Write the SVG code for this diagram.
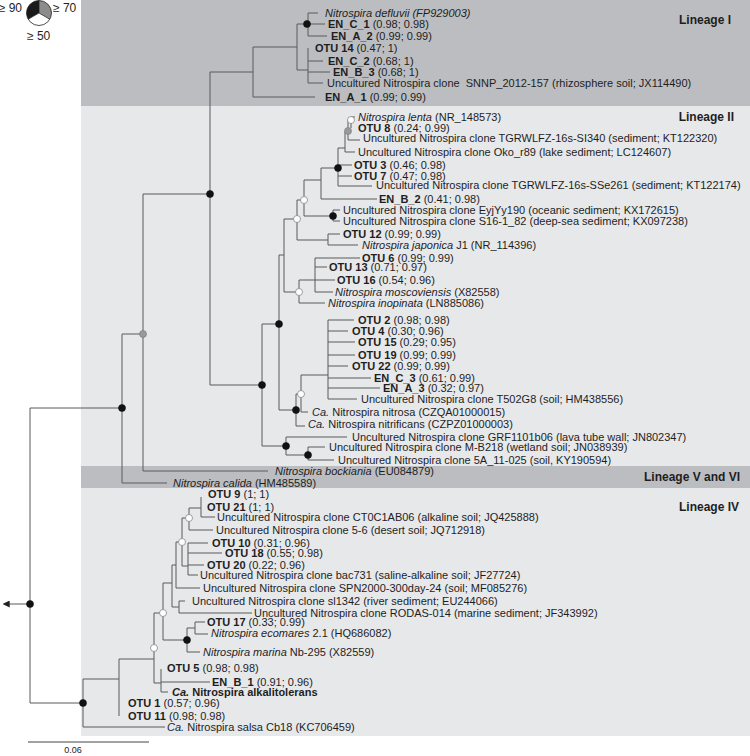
<svg xmlns="http://www.w3.org/2000/svg" width="750" height="756" viewBox="0 0 750 756">
<defs>
<style>
text{font-family:"Liberation Sans",Arial,sans-serif;font-size:11px;fill:#1e1e1e}
.b{font-weight:bold}
.i{font-style:italic}
.lin{font-size:12px;font-weight:bold;text-anchor:end}
.e{fill:none;stroke:#5a5a5a;stroke-width:1}
.nb{fill:#111;stroke:#111;stroke-width:0.6}
.ng{fill:#9a9a9a;stroke:#777;stroke-width:0.6}
.nw{fill:#fff;stroke:#888;stroke-width:0.8}
</style>
<marker id="ah" viewBox="0 0 10 10" refX="1" refY="5" markerWidth="7" markerHeight="7" orient="auto-start-reverse" markerUnits="userSpaceOnUse">
<path d="M0,0 L10,5 L0,10 z" fill="#222"/>
</marker>
</defs>
<g id="bands">
<rect x="81" y="0" width="669" height="106" fill="#bcbdc0"/>
<rect x="81" y="106" width="669" height="360" fill="#e7e8ea"/>
<rect x="81" y="466" width="669" height="22" fill="#bcbdc0"/>
<rect x="81" y="488" width="669" height="248" fill="#e7e8ea"/>
<text class="lin" x="731" y="24">Lineage I</text>
<text class="lin" x="734" y="121">Lineage II</text>
<text class="lin" x="740" y="481">Lineage V and VI</text>
<text class="lin" x="739" y="511">Lineage IV</text>
</g>
<g id="legend">
<path d="M39,13 L39,0.5 A12.5,12.5 0 0 0 28.2,19.25 Z" fill="#1a1a1a"/>
<path d="M39,13 L39,0.5 A12.5,12.5 0 0 1 49.8,19.25 Z" fill="#8c8c8c"/>
<path d="M39,13 L28.2,19.25 A12.5,12.5 0 0 0 49.8,19.25 Z" fill="#fff"/>
<circle cx="39" cy="13" r="12.5" fill="none" stroke="#222" stroke-width="0.8"/>
<path d="M39,13 L39,0.5 M39,13 L28.2,19.25 M39,13 L49.8,19.25" stroke="#222" stroke-width="0.8"/>
<text x="22" y="12" style="font-size:12px;text-anchor:end">≥ 90</text>
<text x="53" y="12" style="font-size:12px">≥ 70</text>
<text x="27" y="40" style="font-size:12px">≥ 50</text>
</g>
<g id="connectors" class="e">
<path class="e" d="M30,604 H9" marker-end="url(#ah)"/>
<path class="e" d="M30,408 V703 M30,408 H122 M122,334 V483 M122,334 H143 M122,483 H167 M143,194 V471 M143,194 H210 M143,471 H268 M210,72 V385 M210,72 H253 M210,385 H262 M30,703 H83"/>
<path class="e" d="M253,47 V97 M253,47 H297 M253,97 H315 M297,24 V70 M297,24 H308 M297,70 H308 M308,13 V36 M308,13 H318 M308,24 H325 M308,36 H327 M308,48 V83 M308,61 H323 M308,72 H330 M308,83 H323"/>
<path class="e" d="M262,324 V446 M262,324 H279 M262,446 H286 M279,255 V410 M279,255 H284 M279,410 H296 M284,219 V292 M284,219 H297 M284,292 H299
M297,200 V240 M297,200 H304 M297,240 H328 M304,180 V216 M304,180 H321 M304,216 H333 M321,168 V199 M321,168 H338 M321,199 H377
M338,148 V186 M338,148 H345 M338,165 H352 M338,176 H352 M338,186 H372 M345,132 V152 M345,132 H348 M345,152 H355 M348,120 V140 M348,120 H351 M348,140 H360 M351,117 V128 M351,117 H355
M333,210 V221 M333,210 H340 M333,221 H340 M328,234 V245 M328,234 H340 M328,245 H358
M299,280 V303 M299,280 H315 M299,303 H325 M315,258 V292 M315,258 H360 M315,267 H327 M315,280 H335 M315,292 H333
M296,394 V426 M296,394 H301 M296,426 H305 M301,375 V412 M301,375 H328 M301,412 H308
M328,320 V399 M328,320 H354 M328,331 H348 M328,342 H355 M328,355 H355 M328,366 H348 M328,378 H371 M328,388 H380 M328,399 H357
M286,437 V455 M286,437 H347 M286,455 H308 M308,447 V460 M308,447 H325 M308,460 H334"/>
<path class="e" d="M83,679 V727 M83,679 H119 M83,727 H165 M119,659 V716 M119,659 H154 M154,613 V683 M154,613 H163 M154,683 H161
M161,669 V692 M161,682 H210 M161,692 H168 M163,583 V640 M163,583 H172 M163,640 H187 M187,628 V652 M187,628 H195 M187,652 H200
M195,622 V634 M195,622 H205 M195,634 H208 M172,565 V607 M172,565 H176 M172,607 H179 M179,601 V613 M179,601 H185 M179,613 H252
M176,542 V588 M176,542 H182 M176,588 H200 M182,518 V566 M182,518 H189 M182,566 H188 M189,508 V530 M189,508 H201 M189,530 H213
M201,497 V517 M201,517 H215 M188,543 V575 M188,543 H208 M188,553 H222 M188,565 H204 M188,575 H198"/>
</g>
<g id="nodes">
<circle class="nb" cx="30" cy="604" r="3.5"/>
<circle class="nb" cx="122" cy="408" r="3.5"/>
<circle class="ng" cx="143" cy="334" r="3.5"/>
<circle class="nb" cx="210" cy="194" r="3.5"/>
<circle class="nb" cx="307" cy="24" r="3.5"/>
<circle class="nb" cx="262" cy="385" r="3.5"/>
<circle class="nb" cx="279" cy="324" r="3.5"/>
<circle class="nb" cx="296" cy="410" r="3.5"/>
<circle class="nb" cx="286" cy="446" r="3.5"/>
<circle class="nb" cx="308" cy="455" r="3.5"/>
<circle class="nb" cx="338" cy="168" r="3.5"/>
<circle class="nb" cx="333" cy="216" r="3.5"/>
<circle class="ng" cx="348" cy="131" r="3.5"/>
<circle class="nw" cx="351" cy="120" r="3.5"/>
<circle class="nw" cx="304" cy="200" r="3.5"/>
<circle class="nw" cx="297" cy="219" r="3.5"/>
<circle class="nw" cx="299" cy="292" r="3.5"/>
<circle class="nw" cx="301" cy="394" r="3.5"/>
<circle class="nb" cx="83" cy="703" r="3.5"/>
<circle class="nb" cx="187" cy="640" r="3.5"/>
<circle class="nw" cx="189" cy="518" r="3.5"/>
<circle class="nw" cx="182" cy="542" r="3.5"/>
<circle class="nw" cx="163" cy="613" r="3.5"/>
<circle class="nw" cx="154" cy="648" r="3.5"/>
</g>
<g id="labels-lineage-I">
<text x="325" y="17" class="i">Nitrospira defluvii (FP929003)</text>
<text x="328" y="28"><tspan class="b">EN_C_1</tspan> (0.98; 0.98)</text>
<text x="331" y="40"><tspan class="b">EN_A_2</tspan> (0.99; 0.99)</text>
<text x="315" y="52"><tspan class="b">OTU 14</tspan> (0.47; 1)</text>
<text x="328" y="65"><tspan class="b">EN_C_2</tspan> (0.68; 1)</text>
<text x="333" y="76"><tspan class="b">EN_B_3</tspan> (0.68; 1)</text>
<text x="327" y="87" xml:space="preserve">Uncultured Nitrospira clone  SNNP_2012-157 (rhizosphere soil; JX114490)</text>
<text x="325" y="101"><tspan class="b">EN_A_1</tspan> (0.99; 0.99)</text>
</g>
<g id="labels-lineage-II">
<text x="358" y="121"><tspan class="i">Nitrospira lenta</tspan> (NR_148573)</text>
<text x="358" y="132"><tspan class="b">OTU 8</tspan> (0.24; 0.99)</text>
<text x="363" y="142">Uncultured Nitrospira clone TGRWLFZ-16s-SI340 (sediment; KT122320)</text>
<text x="358" y="156">Uncultured Nitrospira clone Oko_r89 (lake sediment; LC124607)</text>
<text x="354" y="169"><tspan class="b">OTU 3</tspan> (0.46; 0.98)</text>
<text x="354" y="180"><tspan class="b">OTU 7</tspan> (0.47; 0.98)</text>
<text x="376" y="189">Uncultured Nitrospira clone TGRWLFZ-16s-SSe261 (sediment; KT122174)</text>
<text x="379" y="203"><tspan class="b">EN_B_2</tspan> (0.41; 0.98)</text>
<text x="343" y="214">Uncultured Nitrospira clone EyjYy190 (oceanic sediment; KX172615)</text>
<text x="343" y="225">Uncultured Nitrospira clone S16-1_82 (deep-sea sediment; KX097238)</text>
<text x="343" y="238"><tspan class="b">OTU 12</tspan> (0.99; 0.99)</text>
<text x="362" y="249"><tspan class="i">Nitrospira japonica</tspan> J1 (NR_114396)</text>
<text x="362" y="262"><tspan class="b">OTU 6</tspan> (0.99; 0.99)</text>
<text x="329" y="271"><tspan class="b">OTU 13</tspan> (0.71; 0.97)</text>
<text x="337" y="284"><tspan class="b">OTU 16</tspan> (0.54; 0.96)</text>
<text x="335" y="296"><tspan class="i">Nitrospira moscoviensis</tspan> (X82558)</text>
<text x="328" y="307"><tspan class="i">Nitrospira inopinata</tspan> (LN885086)</text>
<text x="358" y="324"><tspan class="b">OTU 2</tspan> (0.98; 0.98)</text>
<text x="352" y="335"><tspan class="b">OTU 4</tspan> (0.30; 0.96)</text>
<text x="358" y="346"><tspan class="b">OTU 15</tspan> (0.29; 0.95)</text>
<text x="358" y="359"><tspan class="b">OTU 19</tspan> (0.99; 0.99)</text>
<text x="352" y="370"><tspan class="b">OTU 22</tspan> (0.99; 0.99)</text>
<text x="374" y="382"><tspan class="b">EN_C_3</tspan> (0.61; 0.99)</text>
<text x="383" y="392"><tspan class="b">EN_A_3</tspan> (0.32; 0.97)</text>
<text x="361" y="403">Uncultured Nitrospira clone T502G8 (soil; HM438556)</text>
<text x="312" y="416"><tspan class="i">Ca.</tspan> Nitrospira nitrosa (CZQA01000015)</text>
<text x="308" y="428"><tspan class="i">Ca.</tspan> Nitrospira nitrificans (CZPZ01000003)</text>
<text x="352" y="441">Uncultured Nitrospira clone GRF1101b06 (lava tube wall; JN802347)</text>
<text x="329" y="451">Uncultured Nitrospira clone M-B218 (wetland soil; JN038939)</text>
<text x="338" y="464">Uncultured Nitrospira clone 5A_11-025 (soil, KY190594)</text>
</g>
<g id="labels-lineage-V-VI">
<text x="275" y="475"><tspan class="i">Nitrospira bockiania</tspan> (EU084879)</text>
<text x="173" y="487"><tspan class="i">Nitrospira calida</tspan> (HM485589)</text>
</g>
<g id="labels-lineage-IV">
<text x="208" y="498"><tspan class="b">OTU 9</tspan> (1; 1)</text>
<text x="207" y="511"><tspan class="b">OTU 21</tspan> (1; 1)</text>
<text x="217" y="521">Uncultured Nitrospira clone CT0C1AB06 (alkaline soil; JQ425888)</text>
<text x="216" y="534">Uncultured Nitrospira clone 5-6 (desert soil; JQ712918)</text>
<text x="212" y="547"><tspan class="b">OTU 10</tspan> (0.31; 0.96)</text>
<text x="225" y="557"><tspan class="b">OTU 18</tspan> (0.55; 0.98)</text>
<text x="207" y="569"><tspan class="b">OTU 20</tspan> (0.22; 0.96)</text>
<text x="200" y="579">Uncultured Nitrospira clone bac731 (saline-alkaline soil; JF27724)</text>
<text x="203" y="592">Uncultured Nitrospira clone SPN2000-300day-24 (soil; MF085276)</text>
<text x="192" y="605">Uncultured Nitrospira clone sl1342 (river sediment; EU244066)</text>
<text x="254" y="617">Uncultured Nitrospira clone RODAS-014 (marine sediment; JF343992)</text>
<text x="207" y="626"><tspan class="b">OTU 17</tspan> (0.33; 0.99)</text>
<text x="211" y="637"><tspan class="i">Nitrospira ecomares</tspan> 2.1 (HQ686082)</text>
<text x="203" y="656"><tspan class="i">Nitrospira marina</tspan> Nb-295 (X82559)</text>
<text x="167" y="672"><tspan class="b">OTU 5</tspan> (0.98; 0.98)</text>
<text x="212" y="686"><tspan class="b">EN_B_1</tspan> (0.91; 0.96)</text>
<text x="172" y="696" class="b"><tspan class="i">Ca.</tspan> Nitrospira alkalitolerans</text>
<text x="128" y="707"><tspan class="b">OTU 1</tspan> (0.57; 0.96)</text>
<text x="128" y="720"><tspan class="b">OTU 11</tspan> (0.98; 0.98)</text>
<text x="167" y="731"><tspan class="i">Ca.</tspan> Nitrospira salsa Cb18 (KC706459)</text>
</g>
<g id="scale">
<path d="M28,742 H149" stroke="#444" stroke-width="1"/>
<text x="73" y="753" style="font-size:9px;text-anchor:middle">0.06</text>
</g>
</svg>
